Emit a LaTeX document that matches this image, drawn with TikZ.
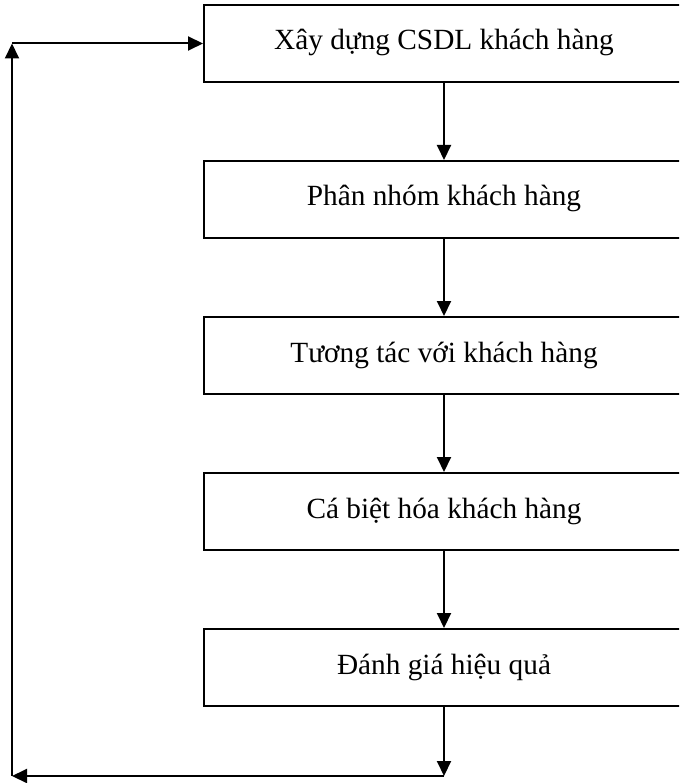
\documentclass[tikz,border=0pt]{standalone}
\usepackage{fontspec}
\setmainfont{Liberation Serif}
\usetikzlibrary{arrows.meta,positioning}
\tikzset{
  flow/.style={>={Triangle[length=15pt,width=14pt]}, x=1pt, y=-1pt, line width=2pt, node distance=77pt},
  stepbox/.style={draw, rectangle, minimum width=480pt, minimum height=77pt, inner sep=0pt,
                  text height=20pt, text depth=7pt, font=\fontsize{29.3}{34}\selectfont},
  link/.style={->}
}

\begin{document}
\begin{tikzpicture}[flow]
\clip (0,0) rectangle (679,783);
\node[stepbox] (s1) at (444,43.5) {Xây dựng CSDL khách hàng};
\node[stepbox, below=of s1] (s2) {Phân nhóm khách hàng};
\node[stepbox, below=of s2] (s3) {Tương tác với khách hàng};
\node[stepbox, below=of s3] (s4) {Cá biệt hóa khách hàng};
\node[stepbox, below=of s4] (s5) {Đánh giá hiệu quả};
\coordinate (br) at (444,776);
\coordinate (bl) at (12,776);
\coordinate (tl) at (12,43.5);
\draw[link] (s1) -- (s2); \draw[link] (s2) -- (s3);
\draw[link] (s3) -- (s4); \draw[link] (s4) -- (s5);
\draw[link] (s5) -- (br);
\draw[link] (br) -- (bl);
\draw[link] (bl) -- (tl);
\draw[link] (tl) -- (s1);
\end{tikzpicture}
\end{document}
